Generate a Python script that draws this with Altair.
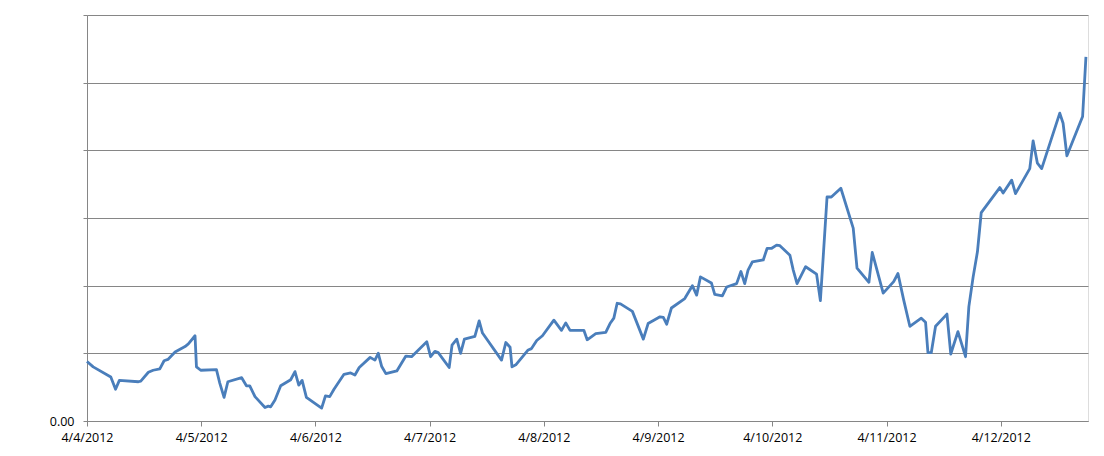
import altair as alt
import pandas as pd

# Hours elapsed since 4/4/2012 00:00 for each observation
hours = [0.0, 1.3, 5.0, 6.0, 6.8, 10.8, 11.3, 12.9, 13.9, 15.3, 16.2, 17.0, 18.5, 20.6, 21.3, 22.7,
         23.0, 23.9, 27.2, 27.9, 28.8, 29.6, 32.5, 33.5, 34.2, 35.3, 37.4, 38.1, 38.6, 39.5, 40.7,
         42.8, 43.7, 44.5, 45.2, 46.1, 49.3, 50.1, 51.0, 51.9, 54.0, 55.4, 56.3, 57.2, 59.5, 60.5,
         61.2, 61.9, 62.8, 65.1, 67.0, 68.2, 71.4, 72.2, 73.1, 73.8, 76.1, 76.7, 77.7, 78.5, 79.3,
         81.5, 82.4, 83.1, 87.1, 88.0, 88.9, 89.3, 90.1, 92.7, 93.4, 94.5, 95.7, 98.1, 99.7, 100.6,
         101.5, 104.4, 105.1, 106.9, 109.0, 109.9, 110.7, 111.4, 112.1, 114.6, 116.9, 117.9, 120.4,
         121.1, 121.8, 122.8, 125.6, 127.2, 128.1, 128.9, 131.2, 131.9, 133.5, 134.4, 136.5, 137.4,
         138.2, 138.9, 139.8, 142.1, 142.9, 143.8, 144.9, 145.6, 147.7, 148.4, 149.2, 151.0, 153.3,
         154.1, 154.7, 155.5, 156.4, 158.4, 161.0, 161.8, 164.3, 165.0, 167.3, 169.5, 170.4, 171.6,
         172.9, 175.3, 176.2, 176.7, 177.4, 178.3, 180.7, 181.5, 183.0, 184.6, 185.3, 186.2, 187.1,
         187.9, 191.8, 192.5, 194.3, 195.1, 198.1, 198.8, 199.7, 200.6, 204.4, 205.1, 205.9, 209.2,
         209.9]

values = [0.88, 0.80, 0.65, 0.47, 0.60, 0.58, 0.59, 0.72, 0.75, 0.77, 0.89, 0.91, 1.02, 1.10, 1.14, 1.26,
          0.80, 0.75, 0.76, 0.56, 0.35, 0.58, 0.64, 0.52, 0.52, 0.36, 0.20, 0.22, 0.21, 0.31, 0.52,
          0.61, 0.73, 0.53, 0.60, 0.35, 0.19, 0.37, 0.36, 0.47, 0.69, 0.71, 0.68, 0.79, 0.94, 0.90,
          1.00, 0.81, 0.70, 0.74, 0.96, 0.95, 1.17, 0.95, 1.03, 1.01, 0.79, 1.12, 1.21, 1.00, 1.21,
          1.25, 1.48, 1.30, 0.90, 1.16, 1.09, 0.80, 0.83, 1.05, 1.07, 1.19, 1.26, 1.49, 1.34, 1.45,
          1.34, 1.34, 1.20, 1.29, 1.31, 1.44, 1.52, 1.74, 1.73, 1.62, 1.21, 1.44, 1.54,
          1.53, 1.43, 1.67, 1.81, 2.00, 1.86, 2.13, 2.04, 1.87, 1.85, 1.98, 2.03, 2.21,
          2.03, 2.23, 2.35, 2.38, 2.55, 2.55, 2.60, 2.59, 2.45, 2.23, 2.03, 2.28, 2.17,
          1.78, 2.43, 3.31, 3.31, 3.44, 2.85, 2.26, 2.05, 2.49, 1.89, 2.06, 2.18, 1.79,
          1.40, 1.52, 1.46, 1.01, 1.01, 1.40, 1.58, 0.99, 1.32, 0.95, 1.69, 2.13, 2.50,
          3.08, 3.45, 3.37, 3.56, 3.36, 3.73, 4.14, 3.81, 3.73, 4.55, 4.40, 3.92, 4.50,
          5.38]

x_start = "2012-04-04T00:00:00"
x_end = "2012-04-12T18:20:00"
day_ticks = ["2012-04-04", "2012-04-05", "2012-04-06", "2012-04-07", "2012-04-08",
             "2012-04-09", "2012-04-10", "2012-04-11", "2012-04-12"]
y_ticks = [0, 1, 2, 3, 4, 5, 6]

df = pd.DataFrame({
    "time": pd.Timestamp(x_start) + pd.to_timedelta(hours, unit="h"),
    "value": values,
})

tick_vals = [alt.DateTime(year=int(d[0:4]), month=int(d[5:7]), date=int(d[8:10])) for d in day_ticks]

axis_color = "#868686"
font = "Open Sans"

chart = alt.Chart(df).mark_line(color="#4a7ebb", strokeWidth=2.8, strokeJoin="round").encode(
    x=alt.X("time:T",
            scale=alt.Scale(domain=[x_start, x_end], nice=False),
            axis=alt.Axis(values=tick_vals, format="%-m/%-d/%Y", title=None, grid=False,
                          domainColor=axis_color, tickColor=axis_color, tickSize=5,
                          labelPadding=5, labelFontSize=12.5, labelFont=font, labelColor="#000000",
                          labelFlush=False, labelOverlap=False)),
    y=alt.Y("value:Q",
            scale=alt.Scale(domain=[0, 6], nice=False, zero=True),
            axis=alt.Axis(values=y_ticks, title=None, grid=True, gridColor=axis_color,
                          domainColor=axis_color, tickColor=axis_color, tickSize=4,
                          labelPadding=9, labelFontSize=12.5, labelFont=font, labelColor="#000000",
                          labelExpr="datum.value == 0 ? '0.00' : ''")),
).properties(
    width=1001,
    height=406,
    autosize=alt.AutoSizeParams(type="none"),
    padding={"left": 79, "top": 7, "right": 8, "bottom": 30},
).configure_view(stroke=None).configure(background="white")

chart.save("out.html", embed_options={"renderer": "svg", "actions": False})
